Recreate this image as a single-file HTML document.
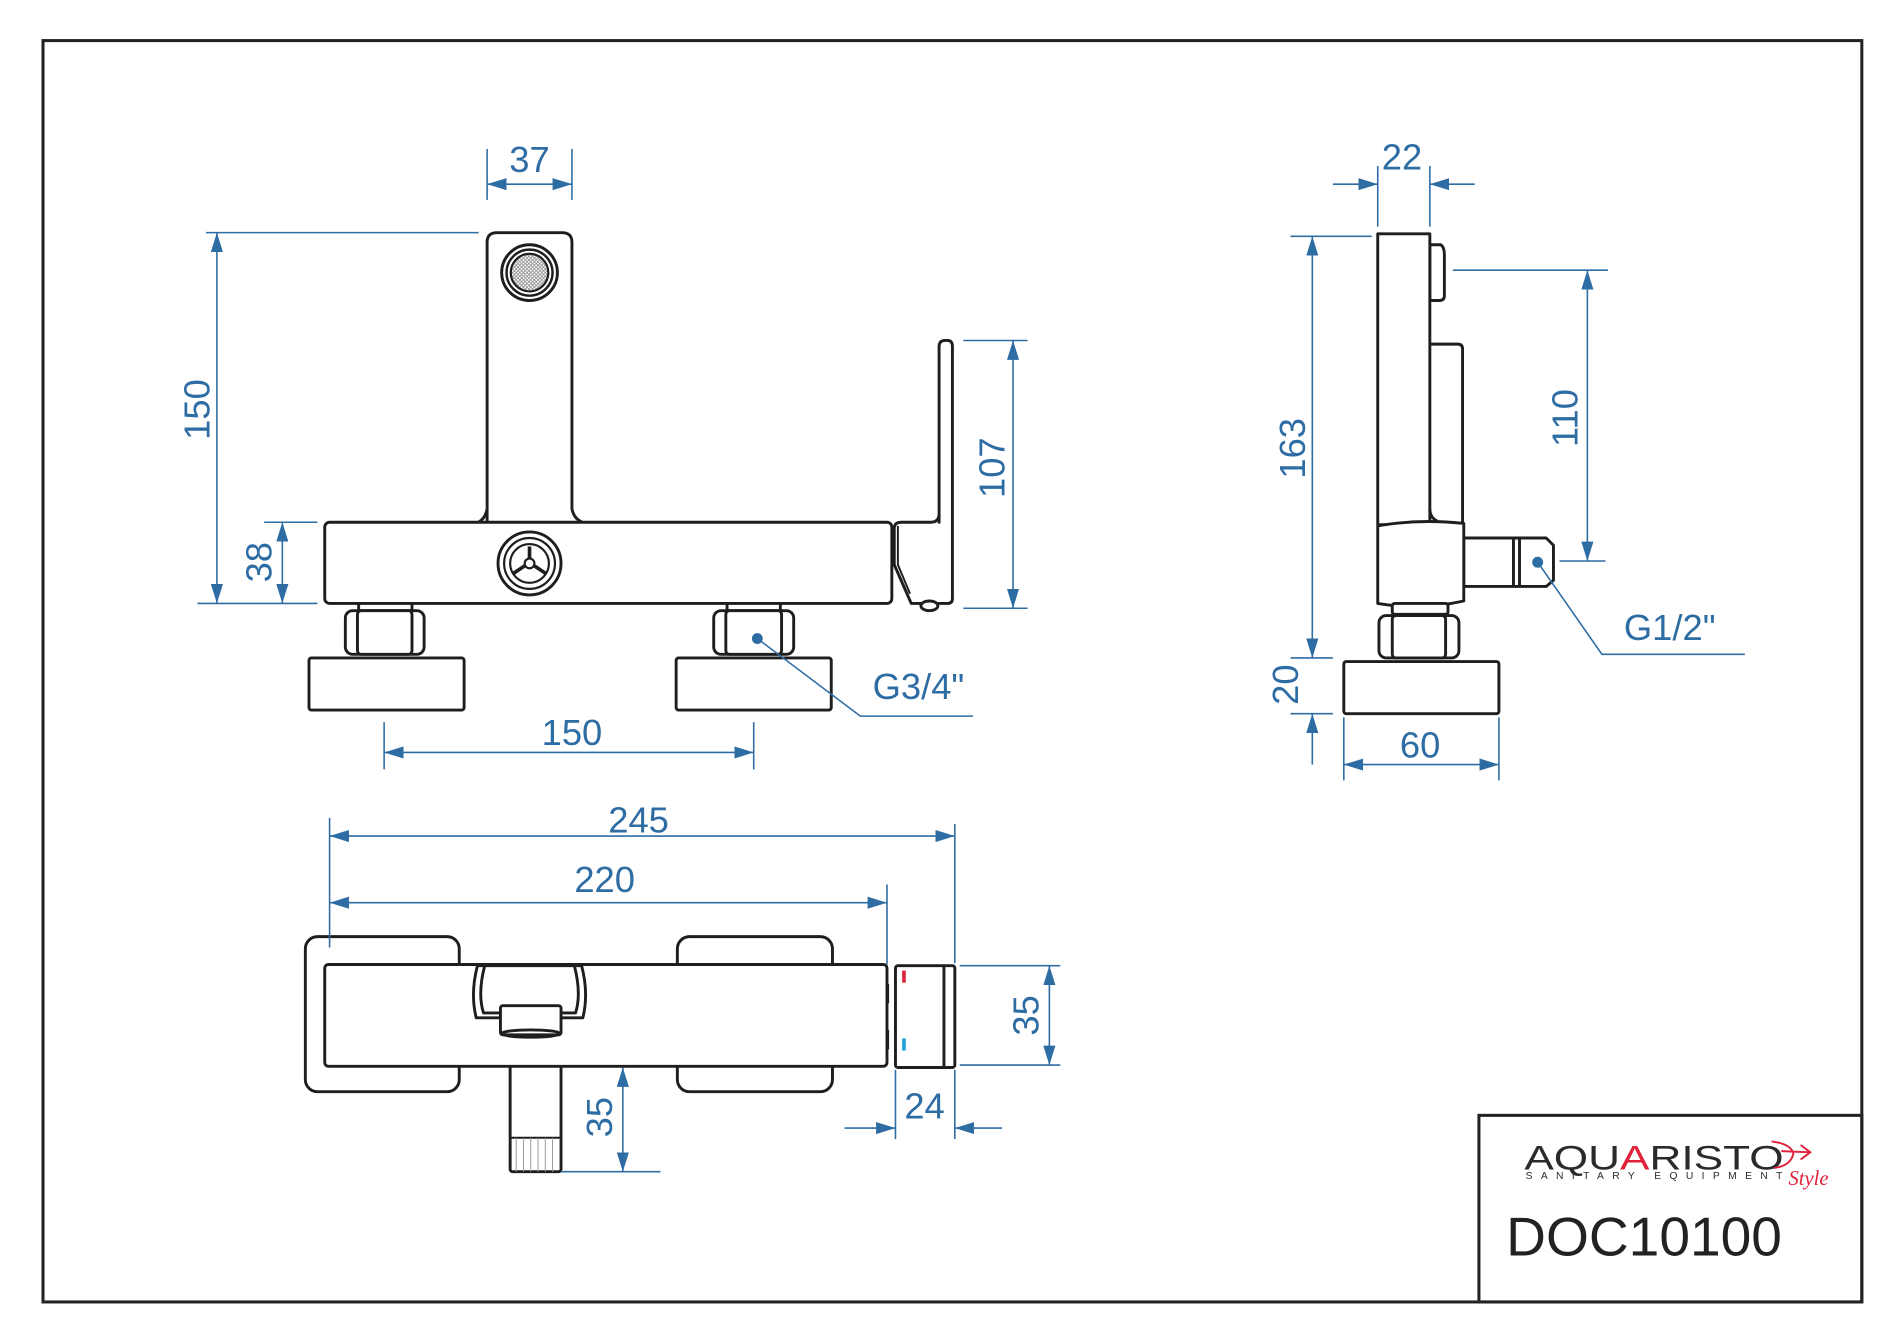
<!DOCTYPE html>
<html><head><meta charset="utf-8"><style>
html,body{margin:0;padding:0;background:#fff;}
svg{display:block;}
.d{stroke:#2e6ca4;stroke-width:1.3;fill:none;}
.o{stroke:#1e1e1e;stroke-width:2.4;fill:#fff;stroke-linejoin:round;}
.t{fill:#2e6ca4;font-family:"Liberation Sans",sans-serif;font-size:30px;text-anchor:middle;}
</style></head><body>
<svg width="1900" height="1328" viewBox="0 0 1568 1096" preserveAspectRatio="none" xmlns="http://www.w3.org/2000/svg">
<defs>
<marker id="a" viewBox="0 0 16 10" refX="16" refY="5" markerWidth="16" markerHeight="10" markerUnits="userSpaceOnUse" orient="auto-start-reverse"><path d="M0,0L16,5L0,10z" fill="#2e6ca4"/></marker>
<pattern id="m" width="3" height="3" patternUnits="userSpaceOnUse"><rect width="3" height="3" fill="#fff"/><path d="M0,0L3,3M3,0L0,3" stroke="#888" stroke-width="0.6"/></pattern>
</defs>
<rect x="35.5" y="33.5" width="1501" height="1041" fill="none" stroke="#222" stroke-width="2.5"/>
<rect x="1220.5" y="920.5" width="316" height="154" fill="none" stroke="#222" stroke-width="2.5"/>

<!-- FRONT VIEW -->
<path class="o" d="M402,432 L402,200 Q402,192 410,192 L464,192 Q472,192 472,200 L472,420 Q474,430 484,432 Z"/>
<path class="o" d="M402,420 Q400,430 392,432"/>
<circle cx="437" cy="225" r="23" fill="#fff" stroke="#1e1e1e" stroke-width="2.4"/>
<circle cx="437" cy="225" r="19" fill="none" stroke="#1e1e1e" stroke-width="2"/>
<circle cx="437" cy="225" r="15.5" fill="url(#m)" stroke="#1e1e1e" stroke-width="1.8"/>
<rect class="o" x="268" y="431" width="468" height="67" rx="4"/>
<circle cx="437" cy="465" r="26" fill="#fff" stroke="#1e1e1e" stroke-width="2.4"/>
<circle cx="437" cy="465" r="21" fill="none" stroke="#1e1e1e" stroke-width="1.8"/>
<circle cx="437" cy="465" r="16" fill="none" stroke="#1e1e1e" stroke-width="1.8"/>
<circle cx="437" cy="465" r="4" fill="none" stroke="#1e1e1e" stroke-width="1.8"/>
<path d="M437,461 L437,451 M433,467 L424,473 M441,467 L450,473" stroke="#1e1e1e" stroke-width="3"/>
<path class="o" d="M775,431 L775,286 Q775,281 780,281 L782,281 Q786,281 786,286 L786,494 Q786,498 782,498 L752,498 L738,466 L738,436 Q738,431 744,431 L768,431 Q775,431 775,424 Z"/>
<path d="M741,434 L741,466 L751,490" stroke="#1e1e1e" stroke-width="1.6" fill="none"/>
<ellipse cx="767" cy="500" rx="7" ry="4" class="o"/>
<!-- nuts -->
<g class="o">
<rect x="296" y="498" width="44" height="6" rx="1"/>
<rect x="285" y="504" width="65" height="36" rx="6"/>
<rect x="295" y="504" width="45" height="36" rx="3"/>
<rect x="600" y="498" width="44" height="6" rx="1"/>
<rect x="589" y="504" width="66" height="36" rx="6"/>
<rect x="599" y="504" width="46" height="36" rx="3"/>
<rect x="255" y="543" width="128" height="43" rx="2"/>
<rect x="558" y="543" width="128" height="43" rx="2"/>
</g>
<!-- front dims -->
<path class="d" d="M402,123V165M472,123V165"/>
<path class="d" d="M402,152H472" marker-start="url(#a)" marker-end="url(#a)"/>
<text class="t" x="437" y="142">37</text>
<path class="d" d="M170,192H395M163,498H262M218,431H262"/>
<path class="d" d="M179,192V498" marker-start="url(#a)" marker-end="url(#a)"/>
<text class="t" transform="translate(173,338) rotate(-90)">150</text>
<path class="d" d="M233,431V498" marker-start="url(#a)" marker-end="url(#a)"/>
<text class="t" transform="translate(224,464) rotate(-90)">38</text>
<path class="d" d="M795,281H848M795,502H848"/>
<path class="d" d="M836,281V502" marker-start="url(#a)" marker-end="url(#a)"/>
<text class="t" transform="translate(829,386) rotate(-90)">107</text>
<path class="d" d="M317,596V635M622,596V635"/>
<path class="d" d="M317,621H622" marker-start="url(#a)" marker-end="url(#a)"/>
<text class="t" x="472" y="615">150</text>
<circle cx="625" cy="527" r="4.5" fill="#2e6ca4"/>
<path class="d" d="M625,527L710,591H803"/>
<text class="t" x="758" y="577">G3/4"</text>

<!-- SIDE VIEW -->
<g class="o">
<path d="M1180,202 L1189,202 Q1192,204 1192,210 L1192,244 Q1192,248 1188,248 L1180,248 Z"/>
<path d="M1179,284 L1203,284 Q1207,284 1207,288 L1207,432 L1179,432 Z"/>
<rect x="1137" y="193" width="43" height="240"/>
<path d="M1180,420 Q1180,427 1186,430" fill="none"/>
<path d="M1208,444 H1276 L1282,450 V479 L1276,484 H1208 Z"/>
<path d="M1249,444 V484 M1254,444 V484" fill="none"/>
<path d="M1137,434 Q1172,428 1208,432 V496 Q1172,504 1137,498 Z"/>
<rect x="1149" y="498" width="46" height="9" rx="2"/>
<rect x="1138" y="508" width="66" height="35" rx="6"/>
<rect x="1149" y="508" width="44" height="35" rx="3"/>
<rect x="1109" y="546" width="128" height="43" rx="2"/>
</g>
<path class="d" d="M1137,137V187M1180,137V187"/>
<path class="d" d="M1100,152H1137" marker-end="url(#a)"/>
<path class="d" d="M1217,152H1180" marker-end="url(#a)"/>
<text class="t" x="1157" y="140">22</text>
<path class="d" d="M1065,195H1132M1065,543H1100M1065,589H1100"/>
<path class="d" d="M1083,195V543" marker-start="url(#a)" marker-end="url(#a)"/>
<text class="t" transform="translate(1077,370) rotate(-90)">163</text>
<path class="d" d="M1083,631V589" marker-end="url(#a)"/>
<text class="t" transform="translate(1071,565) rotate(-90)">20</text>
<path class="d" d="M1199,223H1327M1287,463H1325"/>
<path class="d" d="M1310,223V463" marker-start="url(#a)" marker-end="url(#a)"/>
<text class="t" transform="translate(1302,345) rotate(-90)">110</text>
<path class="d" d="M1109,592V644M1237,592V644"/>
<path class="d" d="M1109,631H1237" marker-start="url(#a)" marker-end="url(#a)"/>
<text class="t" x="1172" y="625">60</text>
<circle cx="1269" cy="464" r="4.5" fill="#2e6ca4"/>
<path class="d" d="M1269,464L1322,540H1440"/>
<text class="t" x="1378" y="528">G1/2"</text>

<!-- BOTTOM VIEW -->
<g class="o">
<rect x="252" y="773" width="127" height="128" rx="10"/>
<rect x="559" y="773" width="128" height="128" rx="10"/>
<rect x="421" y="878" width="42" height="89" rx="2"/>
<rect x="268" y="796" width="464" height="84" rx="3"/>
<path d="M394,797 Q388,820 393,840 H481 Q486,820 480,797 Z"/>
<path d="M400,797 Q394,820 399,836 H475 Q480,820 474,797" fill="none"/>
<rect x="413" y="830" width="50" height="24" rx="2"/>
<ellipse cx="438" cy="853" rx="24" ry="3" fill="none"/>
<rect x="739" y="797" width="49" height="84" rx="2"/>
<path d="M779,797V881" fill="none"/>
</g>
<path d="M421,939H463" stroke="#1e1e1e" stroke-width="1.6"/>
<path d="M426,939V967M432,939V967M438,939V967M444,939V967M450,939V967M456,939V967" stroke="#999" stroke-width="0.8"/>
<path d="M733,812V828" stroke="#1e1e1e" stroke-width="1.5"/>
<path d="M733,850V866" stroke="#1e1e1e" stroke-width="1.5"/>
<path d="M746,801V811" stroke="#e0223a" stroke-width="3"/>
<path d="M746,857V867" stroke="#1ea0d8" stroke-width="3"/>
<path class="d" d="M272,675V782M788,680V795M732,730V796"/>
<path class="d" d="M272,690H788" marker-start="url(#a)" marker-end="url(#a)"/>
<text class="t" x="527" y="687">245</text>
<path class="d" d="M272,745H732" marker-start="url(#a)" marker-end="url(#a)"/>
<text class="t" x="499" y="736">220</text>
<path class="d" d="M792,797H875M792,879H875"/>
<path class="d" d="M866,797V879" marker-start="url(#a)" marker-end="url(#a)"/>
<text class="t" transform="translate(857,838) rotate(-90)">35</text>
<path class="d" d="M739,883V940M788,883V940"/>
<path class="d" d="M697,931H739" marker-end="url(#a)"/>
<path class="d" d="M827,931H788" marker-end="url(#a)"/>
<text class="t" x="763" y="923">24</text>
<path class="d" d="M463,967H545"/>
<path class="d" d="M514,881V967" marker-start="url(#a)" marker-end="url(#a)"/>
<text class="t" transform="translate(505,922) rotate(-90)">35</text>

<!-- TITLE BLOCK -->
<text x="1258" y="965" font-family="Liberation Sans,sans-serif" font-size="28" fill="#2a2a2a" textLength="214" lengthAdjust="spacingAndGlyphs">AQU<tspan fill="#e0223a">A</tspan>RISTO</text>
<text x="1259" y="973" font-family="Liberation Sans,sans-serif" font-size="8.5" fill="#2a2a2a" textLength="212" lengthAdjust="spacing">SANITARY EQUIPMENT</text>
<path d="M1470,950 L1494,951 M1486,945 L1494,951 L1486,957 M1462,942 Q1478,944 1480,952 Q1478,962 1464,964" stroke="#e0223a" stroke-width="1.6" fill="none"/>
<text x="1476" y="978" font-family="Liberation Serif,serif" font-style="italic" font-size="17" fill="#e0223a">Style</text>
<text x="1243" y="1036" font-family="Liberation Sans,sans-serif" font-size="45.5" fill="#222">DOC10100</text>
</svg>
</body></html>
